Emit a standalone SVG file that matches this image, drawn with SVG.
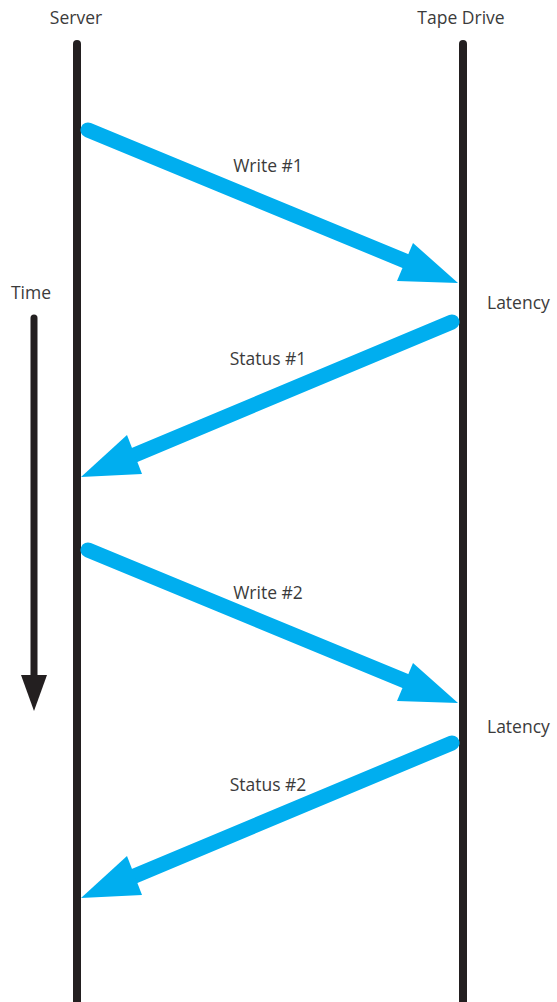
<svg xmlns="http://www.w3.org/2000/svg" width="557" height="1002" viewBox="0 0 557 1002">
<style>
.lbl{font-family:"Open Sans","Liberation Sans",sans-serif;font-size:17.5px;fill:#3b3b3b}
.life{stroke:#231f20;stroke-width:8;stroke-linecap:round;fill:none}
.msg{stroke:#00aeef;stroke-width:15;stroke-linecap:round;fill:none}
.head{fill:#00aeef}
</style>
<rect width="557" height="1002" fill="#fff"/>
<g id="server">
<text class="lbl" x="76" y="24" text-anchor="middle">Server</text>
<line class="life" x1="77" y1="44" x2="77" y2="1010"/>
</g>
<g id="tape-drive">
<text class="lbl" x="461" y="24" text-anchor="middle">Tape Drive</text>
<line class="life" x1="463" y1="44" x2="463" y2="1010"/>
</g>
<g id="time">
<text class="lbl" x="31" y="299" text-anchor="middle">Time</text>
<line stroke="#231f20" stroke-width="7" stroke-linecap="round" x1="34" y1="318" x2="34" y2="680"/>
<polygon fill="#231f20" points="21,675 47,675 34,711"/>
</g>
<g id="latency1"><text class="lbl" x="487" y="309">Latency</text></g>
<g id="latency2"><text class="lbl" x="487" y="733">Latency</text></g>
<g id="connectors">
<g id="write1">
<line class="msg" x1="88" y1="130" x2="415" y2="265"/>
<polygon class="head" points="413,243 458,283 397,281"/>
<text class="lbl" x="268" y="172" text-anchor="middle">Write #1</text>
</g>
<g id="status1">
<line class="msg" x1="452" y1="322" x2="125" y2="459"/>
<polygon class="head" points="127,435 81,477 142,474"/>
<text class="lbl" x="268" y="365" text-anchor="middle">Status #1</text>
</g>
<g id="write2">
<line class="msg" x1="88" y1="550" x2="415" y2="685"/>
<polygon class="head" points="413,663 458,703 397,701"/>
<text class="lbl" x="268" y="599" text-anchor="middle">Write #2</text>
</g>
<g id="status2">
<line class="msg" x1="452" y1="743" x2="125" y2="880"/>
<polygon class="head" points="127,856 81,898 142,895"/>
<text class="lbl" x="268" y="791" text-anchor="middle">Status #2</text>
</g>
</g>
</svg>
